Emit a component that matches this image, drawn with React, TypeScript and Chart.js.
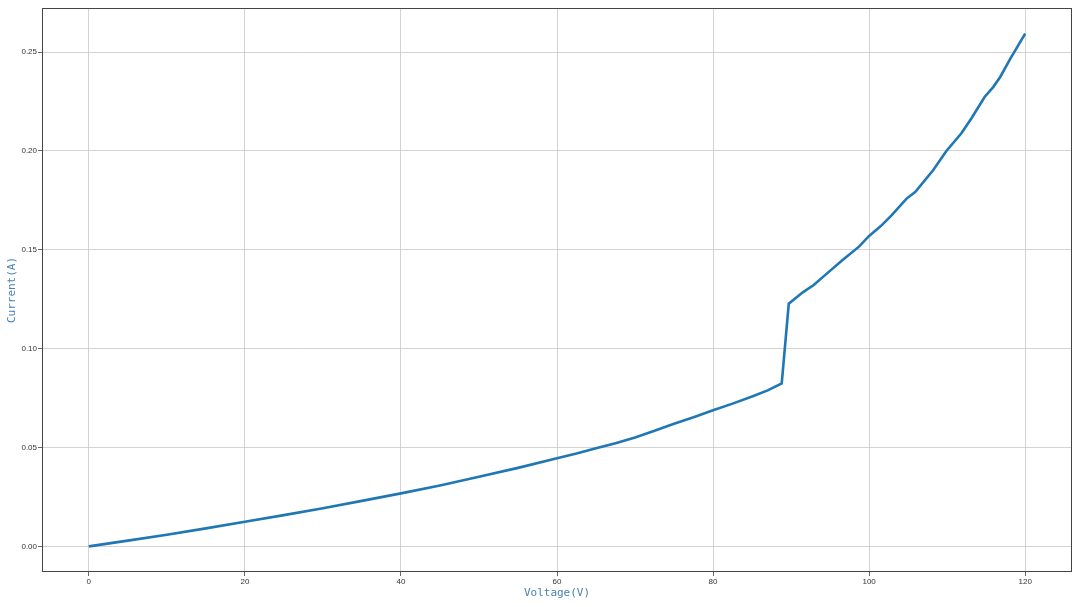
import React, { useEffect, useRef } from "react";
import { Chart, registerables } from "chart.js";

Chart.register(...registerables);

const voltage = [0, 5, 10, 15, 20, 25, 30, 35, 40, 45, 50, 55, 60, 62.5, 65, 67.5, 70, 72.5, 75, 77.5, 80, 82.5, 85, 87, 88.8, 89.7, 91.5, 92.9, 94.5, 96.6, 98.7, 100, 101.5, 102.9, 104.8, 105.9, 108.2, 109.9, 111.8, 113.1, 114.8, 115.9, 116.8, 118.1, 120];
const current = [0, 0.0029, 0.0059, 0.0091, 0.0124, 0.0158, 0.0193, 0.023, 0.0268, 0.0308, 0.0352, 0.0397, 0.0446, 0.047, 0.0496, 0.0522, 0.0551, 0.0585, 0.062, 0.0653, 0.0688, 0.0722, 0.0758, 0.0789, 0.0824, 0.1227, 0.1285, 0.1322, 0.1377, 0.1448, 0.1516, 0.157, 0.162, 0.1675, 0.1759, 0.1792, 0.1902, 0.2, 0.2088, 0.2164, 0.2273, 0.2323, 0.2374, 0.2467, 0.2593];
const xTicks = [0, 20, 40, 60, 80, 100, 120];
const yTicks = [0, 0.05, 0.1, 0.15, 0.2, 0.25];
const xTitle = "Voltage(V)";
const yTitle = "Current(A)";

const frame = {
  id: "frame",
  afterDraw(chart: any) {
    const { ctx, chartArea: a } = chart;
    const l = Math.round(a.left) + 0.5;
    const t = Math.round(a.top) + 0.5;
    const r = Math.round(a.right) - 0.5;
    const b = Math.round(a.bottom) - 0.5;
    ctx.save();
    ctx.strokeStyle = "#444444";
    ctx.lineWidth = 1;
    ctx.strokeRect(l, t, r - l, b - t);
    ctx.restore();
  },
};

export default function App() {
  const ref = useRef<HTMLCanvasElement | null>(null);
  useEffect(() => {
    const chart = new Chart(ref.current!, {
      type: "line",
      data: {
        datasets: [
          {
            data: voltage.map((v, i) => ({ x: v, y: current[i] })),
            borderColor: "#1f77b4",
            borderWidth: 2.6,
            pointRadius: 0,
            tension: 0,
            fill: false,
          },
        ],
      },
      options: {
        animation: false,
        responsive: false,
        maintainAspectRatio: false,
        layout: { padding: { top: 8, right: 8, left: 0, bottom: 0 } },
        plugins: { legend: { display: false }, tooltip: { enabled: false } },
        scales: {
          x: {
            type: "linear",
            min: -6,
            max: 126,
            afterBuildTicks: (axis: any) => {
              axis.ticks = xTicks.map((v) => ({ value: v }));
            },
            afterFit: (axis: any) => {
              axis.height = 35;
            },
            grid: { color: "#c8c8c8", lineWidth: 0.8, tickLength: 4, tickColor: "#444444" },
            border: { display: false },
            ticks: { color: "#333333", font: { family: "Liberation Sans", size: 8 }, padding: 1, maxRotation: 0, callback: (v: any) => String(v) },
            title: { display: true, text: xTitle, color: "#4682b4", font: { family: "DejaVu Sans Mono", size: 11 }, padding: { top: 0, bottom: 7 } },
          },
          y: {
            type: "linear",
            min: -0.01297,
            max: 0.2723,
            afterBuildTicks: (axis: any) => {
              axis.ticks = yTicks.map((v) => ({ value: v }));
            },
            afterFit: (axis: any) => {
              axis.width = 42;
            },
            grid: { color: "#c8c8c8", lineWidth: 0.8, tickLength: 4, tickColor: "#444444" },
            border: { display: false },
            ticks: { color: "#333333", font: { family: "Liberation Sans", size: 8 }, padding: 1, callback: (v: any) => Number(v).toFixed(2) },
            title: { display: true, text: yTitle, color: "#4682b4", font: { family: "DejaVu Sans Mono", size: 11 }, padding: { top: 6, bottom: 0 } },
          },
        },
      },
      plugins: [frame],
    });
    return () => chart.destroy();
  }, []);
  return (
    <div style={{ position: "fixed", left: 0, top: 0, width: 1080, height: 607, background: "#fff" }}>
      <canvas ref={ref} width={1080} height={607} style={{ width: 1080, height: 607, display: "block" }} />
    </div>
  );
}
